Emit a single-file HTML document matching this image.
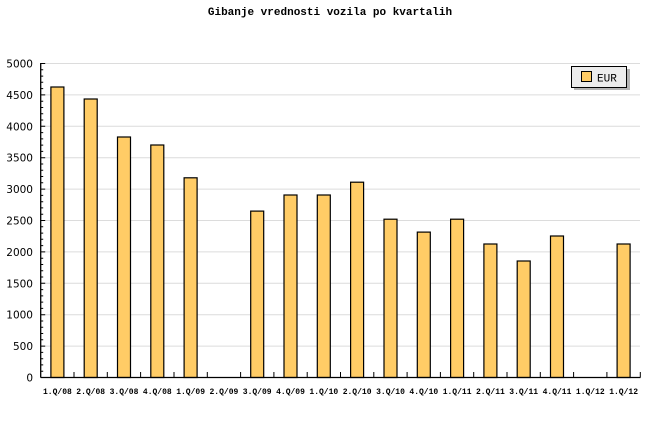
<!DOCTYPE html>
<html><head><meta charset="utf-8"><style>html,body{margin:0;padding:0;background:#fff}svg{display:block}</style></head><body>
<svg width="660" height="440" xmlns="http://www.w3.org/2000/svg">
<text x="330" y="15" text-anchor="middle" font-family="Liberation Mono, monospace" font-weight="bold" font-size="11">Gibanje vrednosti vozila po kvartalih</text>
<g stroke="#dcdcdc" stroke-width="1">
<line x1="41" x2="640" y1="346.1" y2="346.1"/><line x1="41" x2="640" y1="314.7" y2="314.7"/>
<line x1="41" x2="640" y1="283.3" y2="283.3"/><line x1="41" x2="640" y1="251.9" y2="251.9"/>
<line x1="41" x2="640" y1="220.5" y2="220.5"/><line x1="41" x2="640" y1="189.1" y2="189.1"/>
<line x1="41" x2="640" y1="157.7" y2="157.7"/><line x1="41" x2="640" y1="126.3" y2="126.3"/>
<line x1="41" x2="640" y1="94.9" y2="94.9"/><line x1="41" x2="640" y1="63.5" y2="63.5"/>
</g>
<g font-family="DejaVu Sans, sans-serif" font-size="10.5" text-anchor="end">
<text x="33" y="381.5">0</text><text x="33" y="350.1">500</text><text x="33" y="318.7">1000</text>
<text x="33" y="287.3">1500</text><text x="33" y="255.9">2000</text><text x="33" y="224.5">2500</text>
<text x="33" y="193.1">3000</text><text x="33" y="161.7">3500</text><text x="33" y="130.3">4000</text>
<text x="33" y="98.9">4500</text><text x="33" y="67.5">5000</text>
</g>
<g stroke="#000" stroke-width="1">
<path d="M40.7 377.5h4.5M40.7 346.1h4.5M40.7 314.7h4.5M40.7 283.3h4.5M40.7 251.9h4.5M40.7 220.5h4.5M40.7 189.1h4.5M40.7 157.7h4.5M40.7 126.3h4.5M40.7 94.9h4.5M40.7 63.5h4.5"/>
<path d="M40.7 371.2h2.5M40.7 364.9h2.5M40.7 358.7h2.5M40.7 352.4h2.5M40.7 339.8h2.5M40.7 333.5h2.5M40.7 327.3h2.5M40.7 321h2.5M40.7 308.4h2.5M40.7 302.1h2.5M40.7 295.9h2.5M40.7 289.6h2.5M40.7 277h2.5M40.7 270.7h2.5M40.7 264.5h2.5M40.7 258.2h2.5M40.7 245.6h2.5M40.7 239.3h2.5M40.7 233.1h2.5M40.7 226.8h2.5M40.7 214.2h2.5M40.7 207.9h2.5M40.7 201.7h2.5M40.7 195.4h2.5M40.7 182.8h2.5M40.7 176.5h2.5M40.7 170.3h2.5M40.7 164h2.5M40.7 151.4h2.5M40.7 145.1h2.5M40.7 138.9h2.5M40.7 132.6h2.5M40.7 120h2.5M40.7 113.7h2.5M40.7 107.5h2.5M40.7 101.2h2.5M40.7 88.6h2.5M40.7 82.3h2.5M40.7 76.1h2.5M40.7 69.8h2.5"/>
<path d="M74 372v5.5M107.3 372v5.5M140.6 372v5.5M174 372v5.5M207.3 372v5.5M240.6 372v5.5M273.9 372v5.5M307.2 372v5.5M340.5 372v5.5M373.8 372v5.5M407.1 372v5.5M440.4 372v5.5M473.7 372v5.5M507 372v5.5M540.3 372v5.5M573.6 372v5.5M606.9 372v5.5M640.3 372v5.5"/>
</g>
<g fill="#ffcc66" stroke="#000" stroke-width="1.2">
<rect x="50.9" y="87" width="13" height="290.5"/>
<rect x="84.2" y="99" width="13" height="278.5"/>
<rect x="117.5" y="137" width="13" height="240.5"/>
<rect x="150.8" y="145" width="13" height="232.5"/>
<rect x="184.1" y="177.8" width="13" height="199.7"/>
<rect x="250.7" y="211.1" width="13" height="166.4"/>
<rect x="284" y="195" width="13" height="182.5"/>
<rect x="317.3" y="195" width="13" height="182.5"/>
<rect x="350.6" y="182.2" width="13" height="195.3"/>
<rect x="384" y="219.2" width="13" height="158.3"/>
<rect x="417.3" y="232.1" width="13" height="145.4"/>
<rect x="450.6" y="219.2" width="13" height="158.3"/>
<rect x="483.9" y="244" width="13" height="133.5"/>
<rect x="517.2" y="261" width="13" height="116.5"/>
<rect x="550.5" y="236" width="13" height="141.5"/>
<rect x="617.1" y="244" width="13" height="133.5"/>
</g>
<line x1="40.7" x2="40.7" y1="63" y2="377.5" stroke="#000" stroke-width="1.3"/>
<line x1="40.7" x2="640.5" y1="377.5" y2="377.5" stroke="#000" stroke-width="1.3"/>
<g font-family="Liberation Mono, monospace" font-size="8" font-weight="bold" text-anchor="middle">
<text x="57.4" y="394">1.Q/08</text><text x="90.7" y="394">2.Q/08</text><text x="124" y="394">3.Q/08</text>
<text x="157.3" y="394">4.Q/08</text><text x="190.6" y="394">1.Q/09</text><text x="223.9" y="394">2.Q/09</text>
<text x="257.2" y="394">3.Q/09</text><text x="290.5" y="394">4.Q/09</text><text x="323.8" y="394">1.Q/10</text>
<text x="357.1" y="394">2.Q/10</text><text x="390.5" y="394">3.Q/10</text><text x="423.8" y="394">4.Q/10</text>
<text x="457.1" y="394">1.Q/11</text><text x="490.4" y="394">2.Q/11</text><text x="523.7" y="394">3.Q/11</text>
<text x="557" y="394">4.Q/11</text><text x="590.3" y="394">1.Q/12</text><text x="623.6" y="394">1.Q/12</text>
</g>
<rect x="574" y="69" width="56" height="21" fill="#b4b4b4"/>
<rect x="571.5" y="66.5" width="55" height="21" fill="#ececec" stroke="#000"/>
<rect x="581.5" y="71.5" width="10" height="10" fill="#ffcc66" stroke="#000"/>
<text x="597" y="81.5" font-family="Liberation Mono, monospace" font-size="11">EUR</text>
</svg>
</body></html>
